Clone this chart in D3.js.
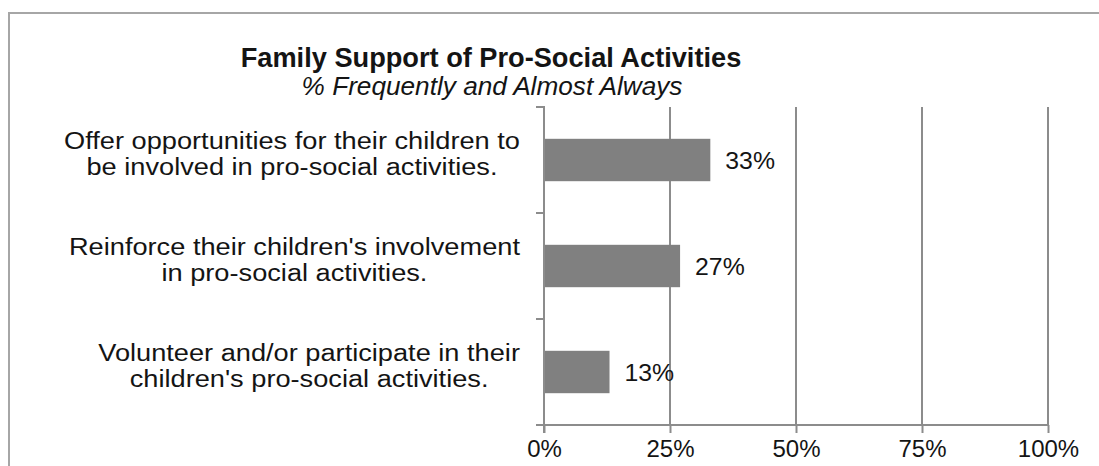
<!DOCTYPE html>
<html>
<head>
<meta charset="utf-8">
<script src="https://cdn.jsdelivr.net/npm/d3@7/dist/d3.min.js"></script>
<style>
  html, body { margin: 0; padding: 0; background: #fff; }
  svg { display: block; font-family: "Liberation Sans", Arial, sans-serif; }
</style>
</head>
<body>
<svg id="chart" width="1099" height="466"></svg>
<script>
// Chart data
const categories = [
  "Offer opportunities for their children to\nbe involved in pro-social activities.",
  "Reinforce their children's involvement\nin pro-social activities.",
  "Volunteer and/or participate in their\nchildren's pro-social activities."
];
const values = [33, 27, 13];
const xTicks = [0, 25, 50, 75, 100];
const title = "Family Support of Pro-Social Activities";
const subtitle = "% Frequently and Almost Always";

const svg = d3.select("#chart");
const W = 1099, H = 466;
const plot = { left: 544, right: 1048, top: 107, bottom: 425 };
const gray = "#8c8c8c";
const ink = "#141414";

// Outer frame
svg.append("rect")
  .attr("x", 9).attr("y", 13)
  .attr("width", W).attr("height", H)
  .attr("fill", "none").attr("stroke", "#a6a6a6").attr("stroke-width", 2);

// Titles
svg.append("text")
  .attr("x", 491).attr("y", 67)
  .attr("text-anchor", "middle")
  .attr("font-size", 27.2).attr("font-weight", "bold").attr("fill", ink)
  .text(title);
svg.append("text")
  .attr("x", 492).attr("y", 95)
  .attr("text-anchor", "middle")
  .attr("font-size", 26.2).attr("font-style", "italic").attr("fill", ink)
  .text(subtitle);

// Scales
const x = d3.scaleLinear().domain([0, 100]).range([plot.left, plot.right]);
const y = d3.scaleBand().domain(categories)
  .range([plot.top, plot.bottom]).paddingInner(0.6).paddingOuter(0.3);

// Vertical gridlines
svg.append("g").selectAll("line")
  .data(xTicks.filter(d => d > 0))
  .join("line")
  .attr("x1", d => x(d)).attr("x2", d => x(d))
  .attr("y1", plot.top).attr("y2", plot.bottom)
  .attr("stroke", gray).attr("stroke-width", 2);

// Bars
svg.append("g").selectAll("rect")
  .data(values)
  .join("rect")
  .attr("x", x(0))
  .attr("y", (d, i) => y(categories[i]))
  .attr("width", d => x(d) - x(0))
  .attr("height", y.bandwidth())
  .attr("fill", "#808080");

// Value labels
svg.append("g").selectAll("text")
  .data(values)
  .join("text")
  .attr("x", d => x(d) + 15)
  .attr("y", (d, i) => y(categories[i]) + y.bandwidth() / 2 + 8.5)
  .attr("font-size", 24.8).attr("fill", ink)
  .text(d => d + "%");

// X axis (bottom)
const xAxis = d3.axisBottom(x)
  .tickValues(xTicks)
  .tickFormat(d => d + "%")
  .tickSize(8)
  .tickPadding(7);
const gx = svg.append("g")
  .attr("transform", `translate(0,${plot.bottom})`)
  .call(xAxis);
gx.select(".domain").remove();
gx.selectAll(".tick line").attr("stroke", gray).attr("stroke-width", 2);
gx.selectAll(".tick text")
  .attr("font-size", 24).attr("fill", ink)
  .attr("font-family", "Liberation Sans, Arial, sans-serif");
gx.append("line")
  .attr("x1", plot.left - 8).attr("x2", plot.right + 1)
  .attr("stroke", gray).attr("stroke-width", 2);

// Y axis line with ticks at category boundaries
const gy = svg.append("g");
gy.append("line")
  .attr("x1", plot.left).attr("x2", plot.left)
  .attr("y1", plot.top - 1).attr("y2", plot.bottom + 8)
  .attr("stroke", gray).attr("stroke-width", 2);
const bounds = d3.range(categories.length + 1).map(i => plot.top + i * y.step());
gy.selectAll("line.tk")
  .data(bounds)
  .join("line")
  .attr("class", "tk")
  .attr("x1", plot.left - 8).attr("x2", plot.left)
  .attr("y1", d => d).attr("y2", d => d)
  .attr("stroke", gray).attr("stroke-width", 2);

// Category labels: wrapped lines, centred within a block right-aligned to the axis,
// set slightly wide to follow the label face's proportions
const labelRight = 520;
const stretch = 1.11;
categories.forEach((c, i) => {
  const lines = c.split("\n");
  const cy = y(c) + y.bandwidth() / 2;
  lines.forEach((ln, j) => {
    const g = svg.append("g");
    const t = g.append("text")
      .attr("font-size", 24.5).attr("fill", ink)
      .attr("text-anchor", "middle")
      .text(ln);
    g.attr("data-line", j).datum({ t, base: cy - 11 + j * 26 });
  });
});
// place each wrapped block once its widths are known
const blocks = d3.groups(svg.selectAll("g[data-line]").nodes(), (n, k) => Math.floor(k / 2));
blocks.forEach(([, nodes]) => {
  const maxW = d3.max(nodes, n => d3.select(n).datum().t.node().getComputedTextLength()) * stretch;
  nodes.forEach(n => {
    const d = d3.select(n).datum();
    d3.select(n).attr("transform",
      `translate(${labelRight - maxW / 2},${d.base}) scale(${stretch},1)`);
  });
});
</script>
</body>
</html>
